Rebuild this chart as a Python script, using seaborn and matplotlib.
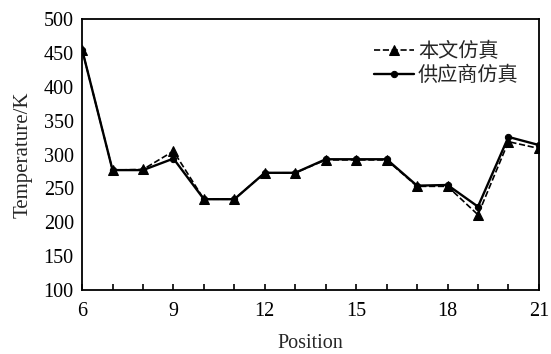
import matplotlib
matplotlib.use("Agg")
import matplotlib.pyplot as plt
import seaborn as sns
import pandas as pd

positions = [6, 7, 8, 9, 10, 11, 12, 13, 14, 15, 16, 17, 18, 19, 20, 21]
ours = [455, 277, 278, 305, 234, 234, 273, 273, 292, 292, 292, 253, 253, 211, 319, 309]
vendor = [455, 277, 277, 294, 234, 234, 273, 273, 293, 293, 293, 254, 255, 223, 326, 314]
label_ours = "本文仿真"
label_vendor = "供应商仿真"
xticks = [6, 9, 12, 15, 18, 21]
yticks = [100, 150, 200, 250, 300, 350, 400, 450, 500]

sns.set_theme(style="ticks")
plt.rcParams['font.family'] = ['Liberation Serif', 'Noto Sans CJK SC']
plt.rcParams['mathtext.fontset'] = 'stix'

df = pd.DataFrame({"Position": positions, "ours": ours, "vendor": vendor})

fig = plt.figure(figsize=(5.51, 3.54), dpi=100)
ax = fig.add_axes([0.149, 0.181, 0.829, 0.765])

sns.lineplot(data=df, x="Position", y="ours", ax=ax, color="black", linestyle="--",
             marker="^", markersize=7, markeredgecolor="black", linewidth=1.2, label=label_ours)
sns.lineplot(data=df, x="Position", y="vendor", ax=ax, color="black", linestyle="-",
             marker="o", markersize=4.5, markeredgecolor="black", linewidth=1.7, label=label_vendor)

ax.set_xlim(6, 21)
ax.set_ylim(100, 500)
ax.set_xticks(xticks)
ax.set_xticks(positions, minor=True)
ax.set_yticks(yticks)
ax.tick_params(axis="both", which="both", direction="in", labelsize=14.5, width=1.2, colors="black")
ax.tick_params(axis="x", which="major", length=4, pad=9)
ax.tick_params(axis="x", which="minor", length=4)
ax.tick_params(axis="y", which="major", length=0, pad=6)
for s in ax.spines.values():
    s.set_linewidth(1.3)
    s.set_color("black")
ax.set_xlabel("Position", fontsize=14.5, labelpad=9)
ax.set_ylabel("Temperature/K", fontsize=15, labelpad=8)

leg = ax.legend(loc="upper right", bbox_to_anchor=(0.982, 0.965), frameon=False,
                handlelength=2.0, handletextpad=0.2, labelspacing=0.15, borderaxespad=0.2,
                prop={"family": ["Noto Sans CJK SC"], "size": 14.5})

fig.savefig("out.png", dpi=100)
